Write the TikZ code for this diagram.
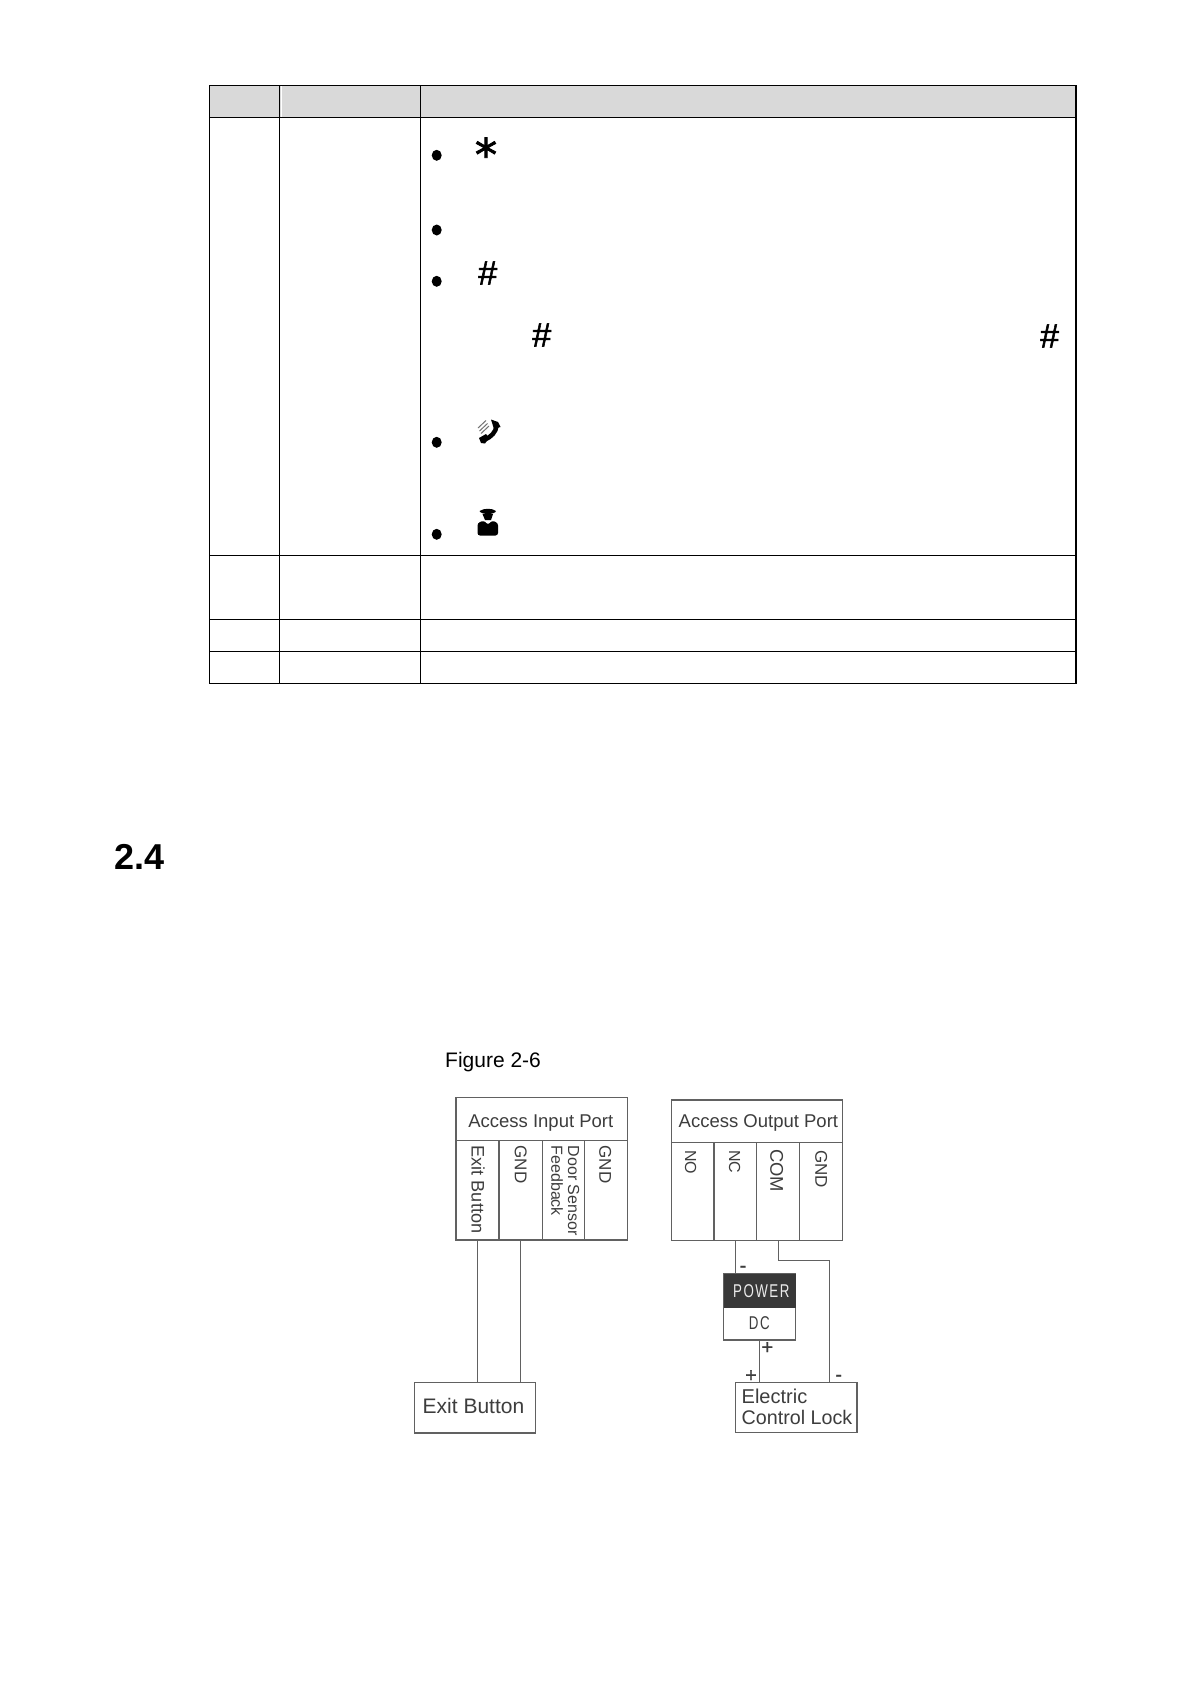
\documentclass[tikz,border=0pt]{standalone}
\usepackage{fontspec}
\setmainfont{Liberation Sans}
\newfontfamily\condf[FakeStretch=0.72,LetterSpace=8]{Liberation Sans}
\newfontfamily\dejab[FakeBold=2]{DejaVu Sans}
\newfontfamily\hashf[FakeBold=1.6]{Liberation Sans}
\newfontfamily\polf[FakeBold=1]{Liberation Sans}
\usetikzlibrary{shapes.geometric}
\tikzset{
  tline/.style={draw=black,line width=1.1pt},
  lbl/.style={inner sep=0pt,outer sep=0pt,text=#1},
  lbl/.default={black!76},
  fsz/.style={font=\fontsize{#1}{#1}\selectfont,text height={0.72*#1 pt},text depth=0pt},
  portbox/.style={draw=black!62,line width=1.1pt,inner sep=0pt,outer sep=0pt,anchor=north west},
  wire/.style={draw=black!62,line width=1.2pt},
  bul/.style={ellipse,fill=black,inner sep=0pt,minimum width=10pt,minimum height=11pt},
  pol/.style={inner sep=0pt,text=black!76,font=\polf\fontsize{20}{20}\selectfont},
  hashn/.style={inner sep=0pt,font=\hashf\fontsize{34}{34}\selectfont},
}
\begin{document}
\begin{tikzpicture}[x=1pt,y=-1pt]
\path[use as bounding box,fill=white] (0,0) rectangle (1191,1684);
% table
\fill[black!15] (209.5,85.3) rectangle (1076,117.3);
\draw[white,line width=1pt] (281,85.8) -- (281,116.8);
\draw[tline] (209.5,85.3) rectangle (1076,683.3);
\draw[tline] (279.5,85.3) -- (279.5,683.3);
\draw[tline] (420.3,85.3) -- (420.3,683.3);
\foreach \yy in {117.3,555.3,619.3,651.3} \draw[tline] (209.5,\yy) -- (1076,\yy);
\node[bul] (b1) at (436.7,155.3) {};
\node[bul] (b2) at (436.7,230) {};
\node[bul] (b3) at (436.7,281.3) {};
\node[bul] (b4) at (436.7,442.3) {};
\node[bul] (b5) at (436.7,534.3) {};
\node[inner sep=0pt,font=\dejab\fontsize{44}{44}\selectfont] (star) at (486,154) {*};
\node[hashn] (h1) at (487.7,273) {\#};
\node[hashn] (h2) at (541.7,335) {\#};
\node[hashn] (h3) at (1049.6,336) {\#};
% phone
\draw[black,line width=4.5pt,line cap=round] (496.5,426) .. controls (496,432) and (491,437) .. (485,439.5);
\fill[black] (491,419.5) -- (498,422) -- (500.5,427) -- (494,429) -- cycle;
\fill[black] (479,438) -- (486,434) -- (489,438) -- (485,443.5) -- (481,443) -- cycle;
\draw[black!55,line width=1pt] (478,428) -- (486,420.5) (479.5,431) -- (487.5,423.5) (481,433.5) -- (489,426);
% person
\fill[black] (479.5,511) .. controls (484,508) and (492,508) .. (496,511) .. controls (495,515) and (481,515) .. (479.5,511) -- cycle;
\fill[black] (482.5,514) -- (493,514) -- (491,520) -- (485,520) -- cycle;
\fill[black,rounded corners=2.5pt] (477.5,523) -- (484,520.5) -- (488,525) -- (492,520.5) -- (498,523) -- (498,535.5) -- (477.5,535.5) -- cycle;
% heading
\node[inner sep=0pt,anchor=west,font=\bfseries\fontsize{36}{36}\selectfont,text height=26pt,text depth=0pt] (sec) at (114,856.5) {2.4};
\node[inner sep=0pt,anchor=west,fsz=21,text=black] (fig) at (445,1060) {Figure 2-6};
% input port
\node[portbox,minimum width=171.7pt,minimum height=42.6pt] (inhead) at (456,1097.7) {};
\node[portbox,minimum width=43pt,minimum height=99.7pt] (inExit) at (456,1140.3) {};
\node[portbox,minimum width=43.3pt,minimum height=99.7pt] (inGnd) at (499,1140.3) {};
\node[portbox,minimum width=42pt,minimum height=99.7pt] (inDoor) at (542.3,1140.3) {};
\node[portbox,minimum width=43.4pt,minimum height=99.7pt] (inGndb) at (584.3,1140.3) {};
\node[lbl,anchor=west,fsz=18.5] (tin) at (468.3,1120.7) {Access Input Port};
\node[lbl,anchor=west,rotate=-90,fsz=18.1] (t1) at (478.2,1145.7) {Exit Button};
\node[lbl,anchor=west,rotate=-90,fsz=17] (t2) at (521,1145.7) {GND};
\node[lbl,anchor=west,rotate=-90,fsz=16] (t3) at (573.8,1145.7) {Door Sensor};
\node[lbl,anchor=west,rotate=-90,fsz=16] (t4) at (557.2,1145.7) {Feedback};
\node[lbl,anchor=west,rotate=-90,fsz=17] (t5) at (605.5,1145.7) {GND};
% output port
\node[portbox,minimum width=171.4pt,minimum height=42.7pt] (outhead) at (671.3,1100) {};
\node[portbox,minimum width=42.7pt,minimum height=97.6pt] (outNo) at (671.3,1142.7) {};
\node[portbox,minimum width=42.7pt,minimum height=97.6pt] (outNc) at (714,1142.7) {};
\node[portbox,minimum width=43pt,minimum height=97.6pt] (outCom) at (756.7,1142.7) {};
\node[portbox,minimum width=43pt,minimum height=97.6pt] (outGnd) at (799.7,1142.7) {};
\node[lbl,anchor=west,fsz=18.5] (tout) at (678.7,1120.7) {Access Output Port};
\node[lbl,anchor=west,rotate=-90,fsz=16] (t6) at (691,1150) {NO};
\node[lbl,anchor=west,rotate=-90,fsz=16] (t7) at (735,1150) {NC};
\node[lbl,anchor=west,rotate=-90,fsz=18.4] (t8) at (777,1149.3) {COM};
\node[lbl,anchor=west,rotate=-90,fsz=17] (t9) at (821.5,1150) {GND};
% devices
\node[portbox,minimum width=121.4pt,minimum height=50.3pt] (exitbtn) at (414.3,1382.7) {};
\node[lbl,anchor=west,fsz=21] (t10) at (422.7,1405.7) {Exit Button};
\node[portbox,fill=white,minimum width=72pt,minimum height=66pt] (power) at (723.7,1274) {};
\node[anchor=north west,fill=black!78,inner sep=0pt,minimum width=72pt,minimum height=33.7pt] (powerhead) at (723.7,1274) {};
\node[inner sep=0pt,text=white!92!black,font=\condf\fontsize{18.5}{18.5}\selectfont] (t11) at (761.3,1290.7) {POWER};
\node[lbl,font=\condf\fontsize{18.5}{18.5}\selectfont] (t12) at (759.3,1323.3) {DC};
\node[portbox,minimum width=121.7pt,minimum height=50pt] (lock) at (735.3,1382.7) {};
\node[lbl,anchor=west,fsz=20] (t13) at (741.7,1396.7) {Electric};
\node[lbl,anchor=west,fsz=19.7] (t14) at (741.7,1417.3) {Control Lock};
% wires
\draw[wire] (inExit.south) -- (inExit.south |- exitbtn.north);
\draw[wire] (inGnd.south) -- (inGnd.south |- exitbtn.north);
\draw[wire] (outNc.south) -- (outNc.south |- power.north);
\coordinate (turn) at (829.7,1260.7);
\draw[wire] (outCom.south) -- (outCom.south |- turn) -- (turn) -- (turn |- lock.north);
\draw[wire] (power.south) -- (power.south |- lock.north);
\node[pol] (m1) at (743,1269) {-};
\node[pol] (p1) at (767.3,1348) {+};
\node[pol] (p2) at (751,1376) {+};
\node[pol] (m2) at (838.7,1378) {-};
\end{tikzpicture}
\end{document}
